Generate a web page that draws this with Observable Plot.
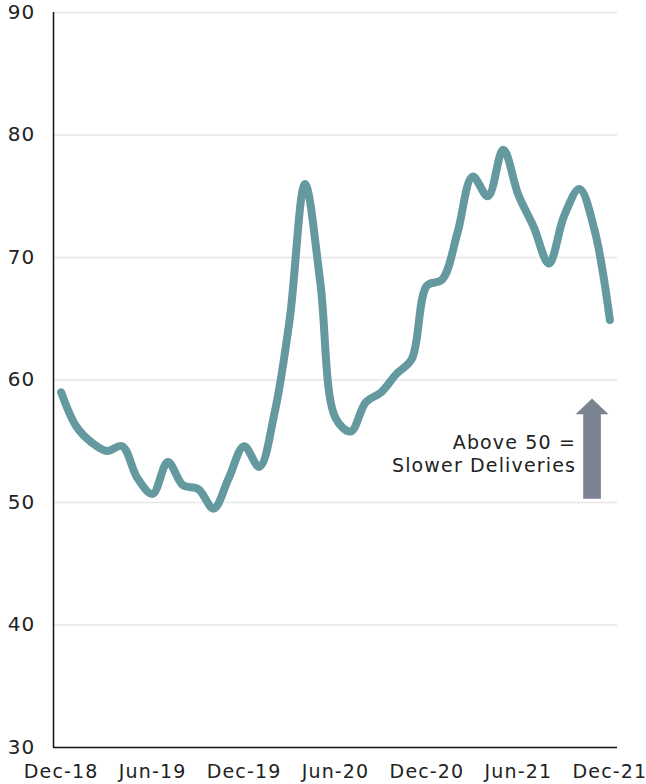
<!DOCTYPE html>
<html>
<head>
<meta charset="utf-8">
<script src="https://cdn.jsdelivr.net/npm/d3@7"></script>
<script src="https://cdn.jsdelivr.net/npm/@observablehq/plot@0.6"></script>
<style>
  body { margin: 0; background: #fff; }
  #chart svg { display: block; }
  #chart svg text { letter-spacing: 1.15px; }
</style>
</head>
<body>
<div id="chart"></div>
<script>
// ISM Manufacturing Supplier Deliveries index, monthly, Dec 2018 – Dec 2021
const months = [
  "Dec-18","Jan-19","Feb-19","Mar-19","Apr-19","May-19","Jun-19","Jul-19","Aug-19","Sep-19","Oct-19","Nov-19",
  "Dec-19","Jan-20","Feb-20","Mar-20","Apr-20","May-20","Jun-20","Jul-20","Aug-20","Sep-20","Oct-20","Nov-20",
  "Dec-20","Jan-21","Feb-21","Mar-21","Apr-21","May-21","Jun-21","Jul-21","Aug-21","Sep-21","Oct-21","Nov-21",
  "Dec-21"
];
const values = [
  59.0, 56.2, 54.9, 54.2, 54.6, 52.0, 50.7, 53.3, 51.4, 51.1, 49.5, 52.0,
  54.6, 52.9, 57.3, 65.0, 76.0, 68.0, 56.9, 55.8, 58.2, 59.0, 60.5, 61.7,
  67.7, 68.2, 72.0, 76.6, 75.0, 78.8, 75.1, 72.5, 69.5, 73.4, 75.6, 72.2,
  64.9
];
const tickLabels = ["Dec-18","Jun-19","Dec-19","Jun-20","Dec-20","Jun-21","Dec-21"];
const yTicks = [30, 40, 50, 60, 70, 80, 90];

// annotation: arrow pointing up from the 50 line
const noteLines = ["Above 50 =", "Slower Deliveries"];
const noteLevels = [54.9, 53.0];
const arrowAt = 34.83;     // month index of the arrow
const arrowBase = 50.3;
const arrowNeck = 57.2;
const arrowTip = 58.5;

const data = months.map((m, i) => ({i, month: m, value: values[i]}));
const tickIndex = tickLabels.map(l => months.indexOf(l));

// arrow outline in data units (shaft half-width / head half-width in months)
const sw = 0.58, hw = 1.08;
const arrowShape = [
  [arrowAt - sw, arrowBase], [arrowAt + sw, arrowBase], [arrowAt + sw, arrowNeck],
  [arrowAt + hw, arrowNeck], [arrowAt, arrowTip], [arrowAt - hw, arrowNeck],
  [arrowAt - sw, arrowNeck], [arrowAt - sw, arrowBase]
].map(([x, y]) => ({x, y}));

const note = noteLines.map((t, k) => ({t, y: noteLevels[k]}));

const font = "'DejaVu Sans', sans-serif";
const chart = Plot.plot({
  width: 646,
  height: 784,
  marginLeft: 53,
  marginRight: 29,
  marginTop: 12,
  marginBottom: 37,
  style: {fontFamily: font, fontSize: "19px", color: "#222", background: "#fff"},
  x: {domain: [-0.5, 36.5], axis: null},
  y: {domain: [30, 90], axis: null},
  marks: [
    Plot.gridY(yTicks.filter(d => d > 30), {stroke: "#e6e6e6", strokeOpacity: 1, strokeWidth: 1.3}),
    Plot.axisY(yTicks, {tickSize: 0, tickPadding: 18, fontSize: 20, fill: "#222", fontFamily: font}),
    Plot.axisX(tickIndex, {tickSize: 0, tickPadding: 17, fontSize: 19, fill: "#222", fontFamily: font,
      tickFormat: (d) => tickLabels[tickIndex.indexOf(d)]}),
    Plot.ruleY([30], {stroke: "#111", strokeWidth: 1.5}),
    Plot.ruleX([-0.5], {stroke: "#111", strokeWidth: 1.5}),
    Plot.line(data, {x: "i", y: "value", stroke: "#6499a0", strokeWidth: 8, curve: "catmull-rom",
      strokeLinecap: "round", strokeLinejoin: "round"}),
    Plot.line(arrowShape, {x: "x", y: "y", fill: "#7a838f", stroke: "none"}),
    Plot.text(note, {x: arrowAt - 1.05, y: "y", text: "t", textAnchor: "end",
      fontSize: 19, fill: "#222", fontFamily: font})
  ]
});
document.getElementById("chart").append(chart);
</script>
</body>
</html>
